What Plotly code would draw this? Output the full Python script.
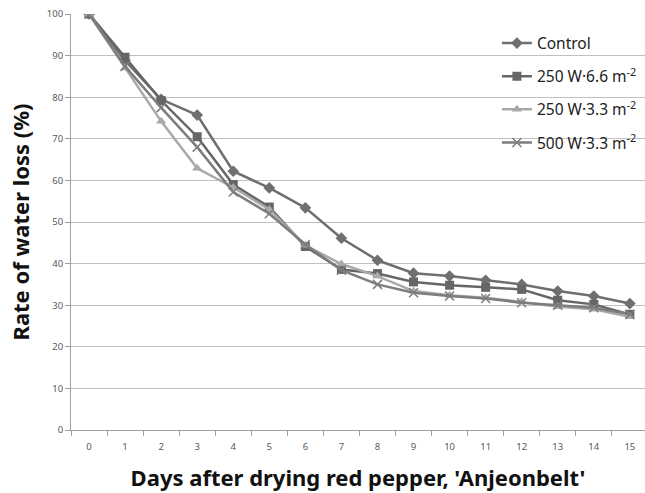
import plotly.graph_objects as go

days = list(range(16))
day_labels = [str(d) for d in days]
control = [100, 88.8, 79.5, 75.7, 62.2, 58.2, 53.4, 46.1, 40.8, 37.7, 37.0, 36.0, 35.0, 33.4, 32.2, 30.4]
w250_66 = [100, 89.6, 79.2, 70.5, 59.0, 53.6, 44.1, 38.6, 37.6, 35.6, 34.8, 34.3, 33.8, 31.2, 30.2, 27.8]
w250_33 = [100, 87.0, 74.2, 62.9, 58.3, 53.0, 44.4, 39.9, 37.0, 33.4, 32.4, 31.8, 30.8, 29.6, 29.0, 27.2]
w500_33 = [100, 87.4, 77.5, 68.0, 57.2, 52.0, 44.6, 38.4, 35.0, 33.0, 32.2, 31.6, 30.6, 30.0, 29.4, 27.8]

series = [
    ("Control", control, "#6f6f6f", "diamond", 9),
    ("250 W·6.6 m<sup>-2</sup>", w250_66, "#666666", "square", 9),
    ("250 W·3.3 m<sup>-2</sup>", w250_33, "#a9a9a9", "triangle-up", 9),
    ("500 W·3.3 m<sup>-2</sup>", w500_33, "#7d7d7d", "x-thin", 9),
]

fig = go.Figure()
for i, (name, vals, col, sym, sz) in enumerate(series):
    marker = dict(symbol=sym, size=sz, color=col, line=dict(width=0, color=col))
    if sym == "x-thin":
        marker["line"] = dict(width=1.5, color=col)
    fig.add_trace(go.Scatter(
        x=days, y=vals, name=name, mode="lines+markers",
        line=dict(color=col, width=2.5), marker=marker,
        legendgroup=f"g{i}",
    ))

fig.update_layout(
    width=645, height=493,
    margin=dict(l=71, r=0, t=14, b=63),
    plot_bgcolor="white", paper_bgcolor="white",
    font=dict(family="Noto Sans", color="#595959"),
    showlegend=True,
    legend=dict(x=0.742, y=0.970, xanchor="left", yanchor="top",
                font=dict(size=15.5, color="#222222"),
                tracegroupgap=10, bgcolor="rgba(0,0,0,0)", itemwidth=30),
    xaxis=dict(
        range=[-0.5, 15.42], tickmode="array", tickvals=days, ticktext=day_labels,
        ticks="", tickfont=dict(size=9.5, color="#595959"),
        showline=True, linecolor="#a0a0a0", linewidth=1, showgrid=False, zeroline=False,
        ticklabelstandoff=8,
        minor=dict(tickmode="linear", tick0=-0.5, dtick=1, ticks="outside", ticklen=5,
                   tickcolor="#a0a0a0", showgrid=False),
        title=dict(text="<b>Days after drying red pepper, 'Anjeonbelt'</b>",
                   font=dict(size=22, color="#111111"), standoff=18),
    ),
    yaxis=dict(
        range=[0, 100], tickmode="array", tickvals=list(range(0, 101, 10)),
        ticks="outside", ticklen=5, tickcolor="#a0a0a0", tickfont=dict(size=9.5, color="#595959"),
        showline=True, linecolor="#a0a0a0", linewidth=1,
        showgrid=True, gridcolor="#c0c0c0", gridwidth=1, zeroline=False,
        title=dict(text="<b>Rate of water loss (%)</b>", font=dict(size=22, color="#111111"), standoff=11),
    ),
)

fig.write_html("out.html", config={"displayModeBar": False},
               post_script="document.body.style.margin='0';document.body.style.overflow='hidden';")
